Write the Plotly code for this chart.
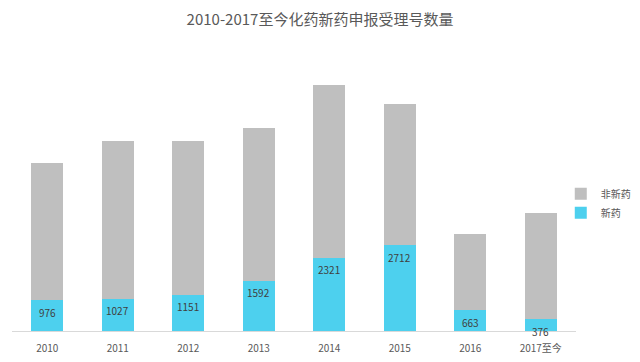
import plotly.graph_objects as go

categories = ["2010", "2011", "2012", "2013", "2014", "2015", "2016", "2017至今"]
new_drug = [976, 1027, 1151, 1592, 2321, 2712, 663, 376]
non_new_drug = [4340, 4973, 4871, 4832, 5473, 4472, 2394, 3346]

FONT = "Noto Sans CJK SC, Microsoft YaHei, sans-serif"
GRAY = "#BFBFBF"
CYAN = "#4DD0EE"
TXT = "#595959"

fig = go.Figure()
fig.add_trace(go.Bar(x=categories, y=new_drug, name="新药", marker_color=CYAN,
                     marker_line_width=0, hoverinfo="x+y+name"))
fig.add_trace(go.Bar(x=categories, y=non_new_drug, name="非新药", marker_color=GRAY,
                     marker_line_width=0, hoverinfo="x+y+name"))

for i, v in enumerate(new_drug):
    fig.add_annotation(x=i, y=v, text=str(v), showarrow=False, yshift=-12,
                       font=dict(family=FONT, size=10, color="#404040"))

fig.update_layout(
    width=640, height=362,
    barmode="stack", bargap=0.546,
    paper_bgcolor="white", plot_bgcolor="white",
    margin=dict(l=12, r=64, t=50, b=31, autoexpand=False),
    title=dict(text="2010-2017至今化药新药申报受理号数量", x=0.5, xanchor="center",
               y=0.945, yanchor="middle",
               font=dict(family=FONT, size=15, color=TXT)),
    font=dict(family=FONT, size=10, color=TXT),
    legend=dict(x=0.973, xanchor="left", y=0.455, yanchor="middle",
                traceorder="reversed", font=dict(size=10, color=TXT),
                itemwidth=30, bgcolor="rgba(0,0,0,0)"),
    showlegend=True,
)
fig.update_xaxes(type="category", range=[-0.5, len(categories) - 0.5],
                 automargin=False,
                 showline=True, linecolor="#D9D9D9", linewidth=1,
                 ticks="", ticklabelstandoff=8, showgrid=False,
                 tickfont=dict(size=10, color=TXT))
fig.update_yaxes(visible=False, range=[0, 8890], showgrid=False)

fig.write_html("out.html")
